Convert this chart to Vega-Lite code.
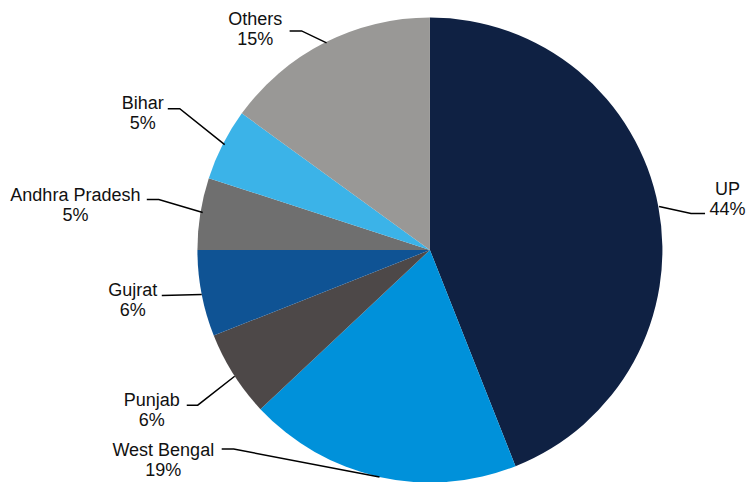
{
  "$schema": "https://vega.github.io/schema/vega-lite/v6.json",
  "width": 746,
  "height": 482,
  "autosize": {"type": "fit", "contains": "padding"},
  "padding": 0,
  "background": "white",
  "config": {"view": {"stroke": null}},
  "datasets": {
    "slices": [
      {"region": "UP", "share": 44, "ord": 1},
      {"region": "West Bengal", "share": 19, "ord": 2},
      {"region": "Punjab", "share": 6, "ord": 3},
      {"region": "Gujrat", "share": 6, "ord": 4},
      {"region": "Andhra Pradesh", "share": 5, "ord": 5},
      {"region": "Bihar", "share": 5, "ord": 6},
      {"region": "Others", "share": 15, "ord": 7}
    ],
    "labels": [
      {"region": "Others", "text": "Others\n15%", "lx": -0.7527, "ly": 0.9699},
      {"region": "Bihar", "text": "Bihar\n5%", "lx": -1.2366, "ly": 0.6086},
      {"region": "Andhra Pradesh", "text": "Andhra Pradesh\n5%", "lx": -1.5269, "ly": 0.2108},
      {"region": "Gujrat", "text": "Gujrat\n6%", "lx": -1.2796, "ly": -0.2},
      {"region": "Punjab", "text": "Punjab\n6%", "lx": -1.1978, "ly": -0.6731},
      {"region": "West Bengal", "text": "West Bengal\n19%", "lx": -1.1484, "ly": -0.8882},
      {"region": "UP", "text": "UP\n44%", "lx": 1.2817, "ly": 0.2387}
    ],
    "leaders": [
      {"region": "Others", "k": 1, "px": -0.6043, "py": 0.9441},
      {"region": "Others", "k": 2, "px": -0.5527, "py": 0.9441},
      {"region": "Others", "k": 3, "px": -0.4452, "py": 0.8925},
      {"region": "Bihar", "k": 1, "px": -1.129, "py": 0.6086},
      {"region": "Bihar", "k": 2, "px": -1.0774, "py": 0.6086},
      {"region": "Bihar", "k": 3, "px": -0.8839, "py": 0.4538},
      {"region": "Andhra Pradesh", "k": 1, "px": -1.2194, "py": 0.2172},
      {"region": "Andhra Pradesh", "k": 2, "px": -1.1677, "py": 0.2172},
      {"region": "Andhra Pradesh", "k": 3, "px": -0.9785, "py": 0.1613},
      {"region": "Gujrat", "k": 1, "px": -1.1548, "py": -0.1957},
      {"region": "Gujrat", "k": 2, "px": -0.9828, "py": -0.1914},
      {"region": "Punjab", "k": 1, "px": -1.0473, "py": -0.6688},
      {"region": "Punjab", "k": 2, "px": -1.0, "py": -0.6688},
      {"region": "Punjab", "k": 3, "px": -0.8409, "py": -0.5441},
      {"region": "West Bengal", "k": 1, "px": -0.8968, "py": -0.8581},
      {"region": "West Bengal", "k": 2, "px": -0.8452, "py": -0.8581},
      {"region": "West Bengal", "k": 3, "px": -0.2172, "py": -0.9785},
      {"region": "UP", "k": 1, "px": 0.9871, "py": 0.1871},
      {"region": "UP", "k": 2, "px": 1.1247, "py": 0.157},
      {"region": "UP", "k": 3, "px": 1.1849, "py": 0.157}
    ]
  },
  "layer": [
    {
      "data": {"name": "slices"},
      "mark": {"type": "arc", "outerRadius": 232.5, "stroke": null},
      "encoding": {
        "x": {"datum": 0, "type": "quantitative", "scale": {"domain": [-1.8516, 1.357], "nice": false, "zero": false}, "axis": null},
        "y": {"datum": 0, "type": "quantitative", "scale": {"domain": [-0.9957, 1.0774], "nice": false, "zero": false}, "axis": null},
        "theta": {"field": "share", "type": "quantitative", "stack": true},
        "order": {"field": "ord", "type": "quantitative"},
        "color": {
          "field": "region",
          "type": "nominal",
          "legend": null,
          "scale": {
            "domain": ["UP", "West Bengal", "Punjab", "Gujrat", "Andhra Pradesh", "Bihar", "Others"],
            "range": ["#0f2143", "#0091da", "#4d4848", "#0f5394", "#6f6f6f", "#3bb3e8", "#999896"]
          }
        }
      }
    },
    {
      "data": {"name": "leaders"},
      "mark": {"type": "line", "color": "black", "strokeWidth": 1.5},
      "encoding": {
        "x": {"field": "px", "type": "quantitative", "axis": null},
        "y": {"field": "py", "type": "quantitative", "axis": null},
        "detail": {"field": "region"},
        "order": {"field": "k", "type": "quantitative"}
      }
    },
    {
      "data": {"name": "labels"},
      "mark": {"type": "text", "font": "Liberation Sans", "fontSize": 18, "lineBreak": "\n", "lineHeight": 20, "align": "center", "baseline": "alphabetic", "color": "#111111"},
      "encoding": {
        "x": {"field": "lx", "type": "quantitative", "axis": null},
        "y": {"field": "ly", "type": "quantitative", "axis": null},
        "text": {"field": "text"}
      }
    }
  ]
}
